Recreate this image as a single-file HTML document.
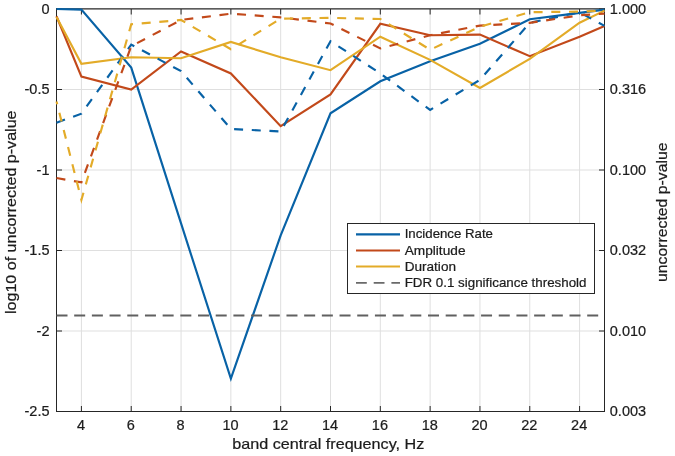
<!DOCTYPE html>
<html><head><meta charset="utf-8"><style>
html,body{margin:0;padding:0;background:#fff;}
body{width:675px;height:456px;overflow:hidden;position:relative;}
svg{position:absolute;left:0;top:0;will-change:transform;}
text{font-family:"Liberation Sans",sans-serif;fill:#1c1c1c;stroke:#1c1c1c;stroke-width:0.22px;}
</style></head><body>
<svg width="675" height="456" viewBox="0 0 675 456">
<rect x="0" y="0" width="675" height="456" fill="#fff"/>
<g stroke="#dfdfdf" stroke-width="1" fill="none"><line x1="81.41" y1="9.0" x2="81.41" y2="411.5"/><line x1="131.23" y1="9.0" x2="131.23" y2="411.5"/><line x1="181.05" y1="9.0" x2="181.05" y2="411.5"/><line x1="230.86" y1="9.0" x2="230.86" y2="411.5"/><line x1="280.68" y1="9.0" x2="280.68" y2="411.5"/><line x1="330.50" y1="9.0" x2="330.50" y2="411.5"/><line x1="380.32" y1="9.0" x2="380.32" y2="411.5"/><line x1="430.14" y1="9.0" x2="430.14" y2="411.5"/><line x1="479.95" y1="9.0" x2="479.95" y2="411.5"/><line x1="529.77" y1="9.0" x2="529.77" y2="411.5"/><line x1="579.59" y1="9.0" x2="579.59" y2="411.5"/><line x1="56.5" y1="89.50" x2="604.5" y2="89.50"/><line x1="56.5" y1="170.00" x2="604.5" y2="170.00"/><line x1="56.5" y1="250.50" x2="604.5" y2="250.50"/><line x1="56.5" y1="331.00" x2="604.5" y2="331.00"/></g>
<g stroke="#262626" stroke-width="1" fill="none"><line x1="56.5" y1="8.8" x2="604.5" y2="8.8" stroke-width="1.3"/><line x1="56.5" y1="411.5" x2="604.5" y2="411.5"/><line x1="56.5" y1="8.2" x2="56.5" y2="412.0"/><line x1="604.5" y1="8.2" x2="604.5" y2="412.0"/><line x1="81.41" y1="411.5" x2="81.41" y2="406.0"/><line x1="81.41" y1="9.0" x2="81.41" y2="14.5"/><line x1="131.23" y1="411.5" x2="131.23" y2="406.0"/><line x1="131.23" y1="9.0" x2="131.23" y2="14.5"/><line x1="181.05" y1="411.5" x2="181.05" y2="406.0"/><line x1="181.05" y1="9.0" x2="181.05" y2="14.5"/><line x1="230.86" y1="411.5" x2="230.86" y2="406.0"/><line x1="230.86" y1="9.0" x2="230.86" y2="14.5"/><line x1="280.68" y1="411.5" x2="280.68" y2="406.0"/><line x1="280.68" y1="9.0" x2="280.68" y2="14.5"/><line x1="330.50" y1="411.5" x2="330.50" y2="406.0"/><line x1="330.50" y1="9.0" x2="330.50" y2="14.5"/><line x1="380.32" y1="411.5" x2="380.32" y2="406.0"/><line x1="380.32" y1="9.0" x2="380.32" y2="14.5"/><line x1="430.14" y1="411.5" x2="430.14" y2="406.0"/><line x1="430.14" y1="9.0" x2="430.14" y2="14.5"/><line x1="479.95" y1="411.5" x2="479.95" y2="406.0"/><line x1="479.95" y1="9.0" x2="479.95" y2="14.5"/><line x1="529.77" y1="411.5" x2="529.77" y2="406.0"/><line x1="529.77" y1="9.0" x2="529.77" y2="14.5"/><line x1="579.59" y1="411.5" x2="579.59" y2="406.0"/><line x1="579.59" y1="9.0" x2="579.59" y2="14.5"/><line x1="56.5" y1="9.00" x2="62.0" y2="9.00"/><line x1="604.5" y1="9.00" x2="599.0" y2="9.00"/><line x1="56.5" y1="89.50" x2="62.0" y2="89.50"/><line x1="604.5" y1="89.50" x2="599.0" y2="89.50"/><line x1="56.5" y1="170.00" x2="62.0" y2="170.00"/><line x1="604.5" y1="170.00" x2="599.0" y2="170.00"/><line x1="56.5" y1="250.50" x2="62.0" y2="250.50"/><line x1="604.5" y1="250.50" x2="599.0" y2="250.50"/><line x1="56.5" y1="331.00" x2="62.0" y2="331.00"/><line x1="604.5" y1="331.00" x2="599.0" y2="331.00"/><line x1="56.5" y1="411.50" x2="62.0" y2="411.50"/><line x1="604.5" y1="411.50" x2="599.0" y2="411.50"/></g>
<polyline points="56.50,9.00 81.41,9.64 131.23,67.60 181.05,223.45 230.86,378.66 280.68,235.37 330.50,113.33 380.32,81.29 430.14,61.33 479.95,43.78 529.77,19.30 579.59,12.86 604.50,9.64" fill="none" stroke="#0862a6" stroke-width="2.15" stroke-linejoin="miter"/>
<polyline points="56.50,16.25 81.41,76.62 131.23,89.50 181.05,51.50 230.86,73.40 280.68,126.21 330.50,94.49 380.32,23.81 430.14,35.24 479.95,34.60 529.77,56.17 579.59,36.69 604.50,25.90" fill="none" stroke="#c2491a" stroke-width="2.15" stroke-linejoin="miter"/>
<polyline points="56.50,17.05 81.41,63.74 131.23,57.30 181.05,58.27 230.86,42.00 280.68,57.30 330.50,70.18 380.32,36.69 430.14,59.88 479.95,87.89 529.77,58.91 579.59,22.69 604.50,10.61" fill="none" stroke="#e3ab28" stroke-width="2.15" stroke-linejoin="miter"/>
<polyline points="56.50,122.67 81.41,113.65 131.23,44.58 181.05,71.15 230.86,128.94 280.68,131.52 330.50,41.20 380.32,73.40 430.14,109.95 479.95,79.84 529.77,22.85 579.59,12.22 604.50,25.90" fill="none" stroke="#0862a6" stroke-width="2.15" stroke-linejoin="miter" stroke-dasharray="9 8.69" stroke-dashoffset="0"/>
<polyline points="56.50,178.05 81.41,182.40 131.23,46.19 181.05,19.95 230.86,13.67 280.68,17.37 330.50,23.49 380.32,48.45 430.14,35.24 479.95,25.58 529.77,22.85 579.59,15.28 604.50,13.67" fill="none" stroke="#c2491a" stroke-width="2.15" stroke-linejoin="miter" stroke-dasharray="9 8.69" stroke-dashoffset="0"/>
<polyline points="56.50,101.41 81.41,199.95 131.23,24.29 181.05,19.95 230.86,49.25 280.68,18.66 330.50,17.86 380.32,18.98 430.14,49.73 479.95,26.71 529.77,12.22 579.59,11.58 604.50,10.61" fill="none" stroke="#e3ab28" stroke-width="2.15" stroke-linejoin="miter" stroke-dasharray="9 8.69" stroke-dashoffset="6"/>
<line x1="56.5" y1="315.54" x2="604.5" y2="315.54" stroke="#606060" stroke-width="2.1" stroke-dasharray="11 6.69"/>
<text x="81.01" y="430" text-anchor="middle" font-size="14.5">4</text><text x="130.83" y="430" text-anchor="middle" font-size="14.5">6</text><text x="180.65" y="430" text-anchor="middle" font-size="14.5">8</text><text x="230.46" y="430" text-anchor="middle" font-size="14.5">10</text><text x="280.28" y="430" text-anchor="middle" font-size="14.5">12</text><text x="330.10" y="430" text-anchor="middle" font-size="14.5">14</text><text x="379.92" y="430" text-anchor="middle" font-size="14.5">16</text><text x="429.74" y="430" text-anchor="middle" font-size="14.5">18</text><text x="479.55" y="430" text-anchor="middle" font-size="14.5">20</text><text x="529.37" y="430" text-anchor="middle" font-size="14.5">22</text><text x="579.19" y="430" text-anchor="middle" font-size="14.5">24</text><text x="49.5" y="13.80" text-anchor="end" font-size="14.5">0</text><text x="49.5" y="94.30" text-anchor="end" font-size="14.5">-0.5</text><text x="49.5" y="174.80" text-anchor="end" font-size="14.5">-1</text><text x="49.5" y="255.30" text-anchor="end" font-size="14.5">-1.5</text><text x="49.5" y="335.80" text-anchor="end" font-size="14.5">-2</text><text x="49.5" y="416.30" text-anchor="end" font-size="14.5">-2.5</text><text x="609.8" y="13.80" font-size="14.5">1.000</text><text x="609.8" y="94.30" font-size="14.5">0.316</text><text x="609.8" y="174.80" font-size="14.5">0.100</text><text x="609.8" y="255.30" font-size="14.5">0.032</text><text x="609.8" y="335.80" font-size="14.5">0.010</text><text x="609.8" y="416.30" font-size="14.5">0.003</text>
<text x="232.3" y="448.8" font-size="15" textLength="192" lengthAdjust="spacingAndGlyphs">band central frequency, Hz</text>
<text transform="translate(16.2,314) rotate(-90)" font-size="15" textLength="203.5" lengthAdjust="spacingAndGlyphs">log10 of uncorrected p-value</text>
<text transform="translate(667,282) rotate(-90)" font-size="15" textLength="139.5" lengthAdjust="spacingAndGlyphs">uncorrected p-value</text>
<rect x="347.5" y="223.5" width="247.0" height="70.0" fill="#fff" stroke="#262626" stroke-width="1"/>
<line x1="356" y1="234.3" x2="400" y2="234.3" stroke="#0862a6" stroke-width="2.15"/><text x="404.7" y="238.40" font-size="12.8" textLength="88.3" lengthAdjust="spacingAndGlyphs">Incidence Rate</text>
<line x1="356" y1="250.5" x2="400" y2="250.5" stroke="#c2491a" stroke-width="2.15"/><text x="404.7" y="254.60" font-size="12.8" textLength="60.8" lengthAdjust="spacingAndGlyphs">Amplitude</text>
<line x1="356" y1="266.5" x2="400" y2="266.5" stroke="#e3ab28" stroke-width="2.15"/><text x="404.7" y="270.60" font-size="12.8" textLength="51.3" lengthAdjust="spacingAndGlyphs">Duration</text>
<line x1="356" y1="282.8" x2="400" y2="282.8" stroke="#6a6a6a" stroke-width="1.7" stroke-dasharray="10.8 6.9"/><text x="404.7" y="286.90" font-size="12.8" textLength="181.8" lengthAdjust="spacingAndGlyphs">FDR 0.1 significance threshold</text>
</svg></body></html>
